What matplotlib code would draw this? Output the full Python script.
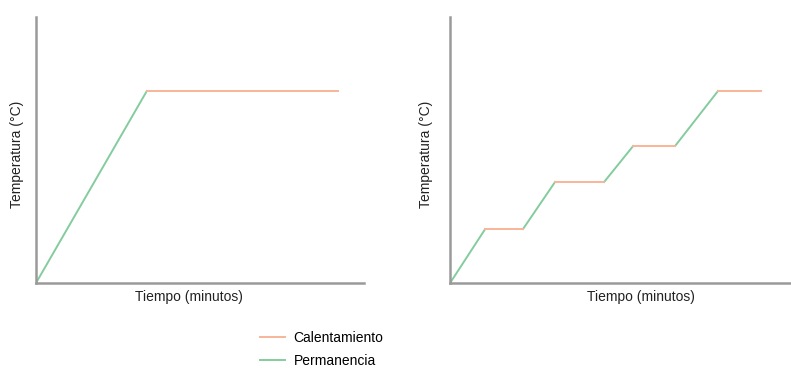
import matplotlib
matplotlib.use("Agg")
from matplotlib import pyplot as plt
from matplotlib.lines import Line2D

plt.rcParams['font.family'] = ['Liberation Sans', 'DejaVu Sans']

# left chart: one heating ramp then a hold
left_ramp_t = [0, 3.38]
left_ramp_temp = [0, 72.2]
left_hold_t = [3.38, 9.2]
left_hold_temp = [72.2, 72.2]

# right chart: stepped heating, alternating ramps and holds
right_ramp_t = [[0, 1.03], [2.14, 3.08], [4.52, 5.37], [6.6, 7.86]]
right_ramp_temp = [[0, 20.3], [20.3, 38.0], [38.0, 51.5], [51.5, 72.2]]
right_hold_t = [[1.03, 2.14], [3.08, 4.52], [5.37, 6.6], [7.86, 9.12]]
right_hold_temp = [[20.3, 20.3], [38.0, 38.0], [51.5, 51.5], [72.2, 72.2]]

legend_labels = ["Calentamiento", "Permanencia"]

orange = "#f8b598"
green = "#84cc9e"
axis_gray = "#9a9a9a"

fig = plt.figure(figsize=(7.91, 3.69), dpi=100)
ax1 = fig.add_axes([0.0455, 0.233, 0.4147, 0.721])
ax2 = fig.add_axes([0.569, 0.233, 0.431, 0.721])

ax1.plot(left_ramp_t, left_ramp_temp, color=green, lw=1.4)
ax1.plot(left_hold_t, left_hold_temp, color=orange, lw=1.4)
for t, temp in zip(right_ramp_t, right_ramp_temp):
    ax2.plot(t, temp, color=green, lw=1.4)
for t, temp in zip(right_hold_t, right_hold_temp):
    ax2.plot(t, temp, color=orange, lw=1.4)

for ax, xl, yl in [(ax1, 0.466, -0.037), (ax2, 0.56, -0.05)]:
    ax.set_xlim(0, 10)
    ax.set_ylim(0, 100)
    ax.set_xticks([])
    ax.set_yticks([])
    ax.spines['top'].set_visible(False)
    ax.spines['right'].set_visible(False)
    for s in ['left', 'bottom']:
        ax.spines[s].set_color(axis_gray)
        ax.spines[s].set_linewidth(1.8)
    ax.set_xlabel("Tiempo (minutos)", fontsize=10, color="#222222")
    ax.xaxis.set_label_coords(xl, -0.025, transform=ax.transAxes)
    ax.xaxis.label.set_verticalalignment('top')
    ax.set_ylabel("Temperatura (°C)", fontsize=10, color="#222222")
    ax.yaxis.set_label_coords(yl, 0.485)

handles = [Line2D([], [], color=orange, lw=1.4), Line2D([], [], color=green, lw=1.4)]
fig.legend(handles, legend_labels, loc='upper left', bbox_to_anchor=(0.329, 0.104),
           frameon=False, fontsize=10, handlelength=1.8, handletextpad=0.6,
           labelspacing=0.7, borderpad=0, borderaxespad=0)

plt.savefig("out.png", dpi=100)
